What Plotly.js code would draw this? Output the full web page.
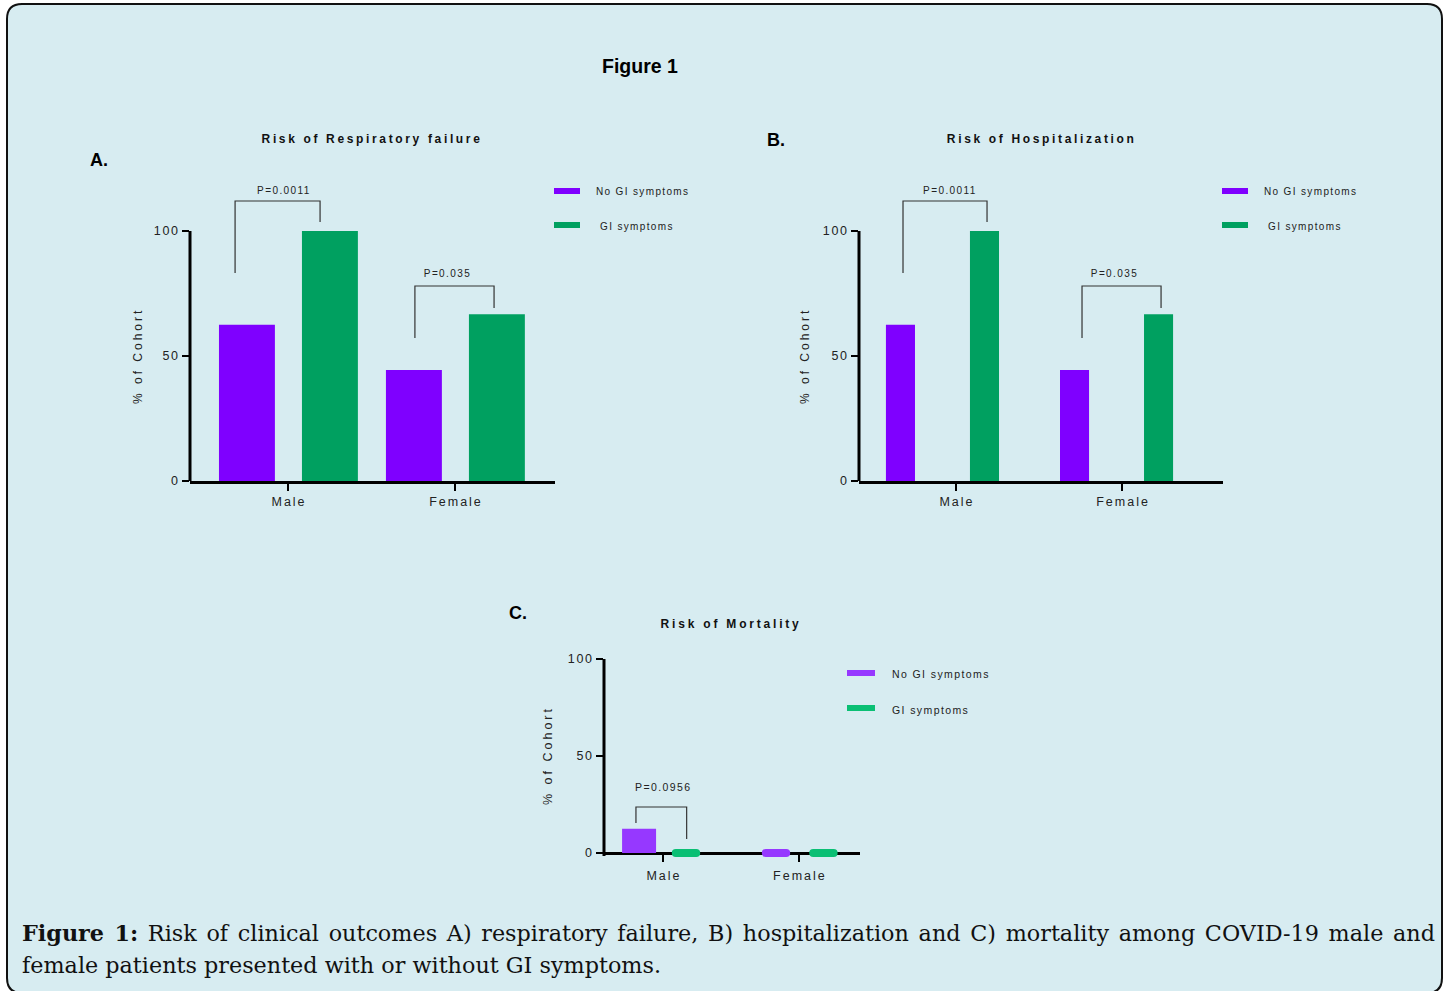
<!DOCTYPE html>
<html>
<head>
<meta charset="utf-8">
<script src="https://cdn.plot.ly/plotly-3.0.1.min.js"></script>
<style>
html,body{margin:0;padding:0;background:#fff;}
#chart{width:1451px;height:991px;}
</style>
</head>
<body>
<div id="chart"></div>
<script>
// ---------- data ----------
const categories = ["Male", "Female"];
const seriesNames = ["No GI symptoms", "GI symptoms"];
const respNoGI = [62.5, 44.4];
const respGI = [100, 66.7];
const hospNoGI = [62.5, 44.4];
const hospGI = [100, 66.7];
const mortNoGI = [12.5, 0];
const mortGI = [0, 0];
const yTicks = [0, 50, 100];
const pLabelsResp = ["P=0.0011", "P=0.035"];
const pLabelsHosp = ["P=0.0011", "P=0.035"];
const pLabelsMort = ["P=0.0956"];
// bracket heights in % units: [leftFoot, top, rightFoot]
const bracketResp = [[83.2, 112, 103.6], [57.2, 78, 69.2]];
const bracketHosp = [[83.2, 112, 103.6], [57.2, 78, 69.2]];
const bracketMort = [[15.5, 23.7, 7.2]];

// ---------- helpers ----------
const W = 1451, H = 991;
const px = x => x / W;
const py = y => 1 - y / H;
const FONT = "Liberation Sans, Arial, sans-serif";
const catIdx = categories.map((c, i) => i);

const colA = {p: "#7F00FF", g: "#00A060"};
const colC = {p: "#9638FF", g: "#0ABF74"};

function barTrace(name, vals, color, xa, ya, offset, width, lineW) {
  return {
    type: "bar", name: name, x: catIdx, y: vals,
    xaxis: xa, yaxis: ya, offset: offset, width: width,
    marker: {color: color, line: {color: color, width: lineW || 0}},
    showlegend: false, hoverinfo: "skip"
  };
}
function bracketTrace(cat, b, xl, xr, xa, ya) {
  return {
    type: "scatter", mode: "lines",
    x: [cat + xl, cat + xl, cat + xr, cat + xr],
    y: [b[0], b[1], b[1], b[2]],
    xaxis: xa, yaxis: ya,
    line: {color: "#333", width: 1.2},
    showlegend: false, hoverinfo: "skip"
  };
}

const traces = [
  barTrace(seriesNames[0], respNoGI, colA.p, "x", "y", -0.4135, 0.335),
  barTrace(seriesNames[1], respGI, colA.g, "x", "y", 0.0835, 0.335),
  barTrace(seriesNames[0], hospNoGI, colA.p, "x2", "y2", [-0.4218, -0.3736], 0.175),
  barTrace(seriesNames[1], hospGI, colA.g, "x2", "y2", [0.0842, 0.1324], 0.175),
  barTrace(seriesNames[0], mortNoGI, colC.p, "x3", "y3", [-0.301, -0.244], [0.25, 0.15], [0, 8]),
  barTrace(seriesNames[1], mortGI, colC.g, "x3", "y3", [0.094, 0.105], 0.15, [8, 8]),
  bracketTrace(0, bracketResp[0], -0.317, 0.192, "x", "y"),
  bracketTrace(1, bracketResp[1], -0.24, 0.234, "x", "y"),
  bracketTrace(0, bracketHosp[0], -0.319, 0.187, "x2", "y2"),
  bracketTrace(1, bracketHosp[1], -0.241, 0.235, "x2", "y2"),
  bracketTrace(0, bracketMort[0], -0.199, 0.174, "x3", "y3")
];

function xAxis(domain, range) {
  return {
    domain: domain, range: range, tickvals: catIdx, ticktext: categories,
    showline: true, linewidth: 3, linecolor: "#000",
    ticks: "outside", ticklen: 7, tickwidth: 2.5, tickcolor: "#000",
    showgrid: false, zeroline: false, fixedrange: true,
    tickfont: {family: FONT, size: 12.5, color: "#222"}
  };
}
function yAxis(domain, range, anchor) {
  return {
    domain: domain, range: range, tickvals: yTicks, anchor: anchor,
    showline: false, linewidth: 3, linecolor: "#000",
    ticks: "outside", ticklen: 7, tickwidth: 2.5, tickcolor: "#000",
    showgrid: false, zeroline: false, fixedrange: true,
    tickfont: {family: FONT, size: 12.5, color: "#222"}
  };
}

// rounded panel border
const r = 15, L = 7, R = 1442, T = 4, B = 993;
const borderPath = [
  "M", px(L + r), py(T),
  "L", px(R - r), py(T),
  "Q", px(R), py(T), px(R), py(T + r),
  "L", px(R), py(B - r),
  "Q", px(R), py(B), px(R - r), py(B),
  "L", px(L + r), py(B),
  "Q", px(L), py(B), px(L), py(B - r),
  "L", px(L), py(T + r),
  "Q", px(L), py(T), px(L + r), py(T), "Z"
].join(" ");

const shapes = [
  {type: "path", xref: "paper", yref: "paper", path: borderPath,
   fillcolor: "#D7ECF1", line: {color: "#111", width: 2}, layer: "below"},
  // y axis lines (only from 0 up to 100)
  {type: "line", xref: "x domain", yref: "y", x0: 0, x1: 0, y0: -1.2, y1: 100, line: {color: "#000", width: 3}},
  {type: "line", xref: "x2 domain", yref: "y2", x0: 0, x1: 0, y0: -1.2, y1: 100, line: {color: "#000", width: 3}},
  {type: "line", xref: "x3 domain", yref: "y3", x0: 0, x1: 0, y0: -1.5, y1: 100, line: {color: "#000", width: 3}, layer: "below"}
];
// legend swatches
function swatch(x0, x1, y0, y1, color) {
  shapes.push({type: "rect", xref: "paper", yref: "paper",
    x0: px(x0), x1: px(x1), y0: py(y1), y1: py(y0),
    fillcolor: color, line: {width: 0}});
}
swatch(554, 580, 188, 194, colA.p); swatch(554, 580, 222, 228, colA.g);
swatch(1222, 1248, 188, 194, colA.p); swatch(1222, 1248, 222, 228, colA.g);
swatch(847, 875, 670, 676, colC.p); swatch(847, 875, 705, 711, colC.g);

const annotations = [];
const spacing = [];
function ann(text, x, y, opts, ls) {
  annotations.push(Object.assign({
    text: text, x: px(x), y: py(y), xref: "paper", yref: "paper",
    showarrow: false, xanchor: "center", yanchor: "middle",
    font: {family: FONT, size: 12, color: "#111"}
  }, opts || {}));
  spacing.push(ls || 0);
}
function annD(text, x, y, xa, ya, size) {
  annotations.push({text: text, x: x, y: y, xref: xa, yref: ya, showarrow: false,
    xanchor: "center", yanchor: "middle", font: {family: FONT, size: size, color: "#222"}});
  spacing.push(1.4);
}

ann("<b>Figure 1</b>", 640, 66, {font: {family: FONT, size: 19.5, color: "#000"}});
ann("<b>A.</b>", 99, 160, {font: {family: FONT, size: 18, color: "#000"}});
ann("<b>B.</b>", 776, 140, {font: {family: FONT, size: 18, color: "#000"}});
ann("<b>C.</b>", 518, 613, {font: {family: FONT, size: 18, color: "#000"}});
ann("<b>Risk of Respiratory failure</b>", 371, 139, {font: {family: FONT, size: 12, color: "#111"}}, 2.65);
ann("<b>Risk of Hospitalization</b>", 1040, 139, {font: {family: FONT, size: 12, color: "#111"}}, 2.65);
ann("<b>Risk of Mortality</b>", 730, 624, {font: {family: FONT, size: 12, color: "#111"}}, 2.8);
ann("% of Cohort", 138, 357, {textangle: -90, font: {family: FONT, size: 12, color: "#222"}}, 3.0);
ann("% of Cohort", 805, 357, {textangle: -90, font: {family: FONT, size: 12, color: "#222"}}, 3.0);
ann("% of Cohort", 548, 757, {textangle: -90, font: {family: FONT, size: 12.5, color: "#222"}}, 3.0);
// legends
ann(seriesNames[0], 594, 192, {xanchor: "left", font: {family: FONT, size: 10, color: "#222"}}, 1.35);
ann(seriesNames[1], 598, 226, {xanchor: "left", font: {family: FONT, size: 10, color: "#222"}}, 1.35);
ann(seriesNames[0], 1262, 192, {xanchor: "left", font: {family: FONT, size: 10, color: "#222"}}, 1.35);
ann(seriesNames[1], 1266, 226, {xanchor: "left", font: {family: FONT, size: 10, color: "#222"}}, 1.35);
ann(seriesNames[0], 890, 674, {xanchor: "left", font: {family: FONT, size: 10.5, color: "#222"}}, 1.4);
ann(seriesNames[1], 890, 710, {xanchor: "left", font: {family: FONT, size: 10.5, color: "#222"}}, 1.4);
// p-values
annD(pLabelsResp[0], -0.03, 116, "x", "y", 10);
annD(pLabelsResp[1], 1 - 0.048, 83.2, "x", "y", 10);
annD(pLabelsHosp[0], -0.036, 116, "x2", "y2", 10);
annD(pLabelsHosp[1], 1 - 0.048, 83.2, "x2", "y2", 10);
annD(pLabelsMort[0], -0.007, 34, "x3", "y3", 10.5);
// caption
const CAP = "DejaVu Serif, serif";
ann("<b>Figure 1:</b> Risk of clinical outcomes A) respiratory failure, B) hospitalization and C) mortality among COVID-19 male and",
    20, 933, {xanchor: "left", font: {family: CAP, size: 22.3, color: "#111"}}, 0);
ann("female patients presented with or without GI symptoms.",
    20, 965, {xanchor: "left", font: {family: CAP, size: 22.3, color: "#111"}}, 0);
const captionFirstIdx = annotations.length - 2;

// panel C: value 0 sits at pixel 853, 1.94 px per % unit; a little room below 0 for zero-bars
const cPerUnit = (853 - 659) / 100;
const cBelow = 5;
const layout = {
  width: W, height: H,
  margin: {l: 0, r: 0, t: 0, b: 0},
  paper_bgcolor: "#ffffff", plot_bgcolor: "rgba(0,0,0,0)",
  barmode: "overlay", showlegend: false,
  xaxis: xAxis([px(190), px(555)], [-0.587, 1.599]),
  yaxis: yAxis([py(481), py(156)], [0, 130], "x"),
  xaxis2: xAxis([px(859), px(1223)], [-0.584, 1.608]),
  yaxis2: yAxis([py(481), py(156)], [0, 130], "x2"),
  xaxis3: xAxis([px(604), px(860)], [-0.434, 1.449]),
  yaxis3: yAxis([py(853 + cBelow * cPerUnit), py(659)], [-cBelow, 100], "x3"),
  shapes: shapes,
  annotations: annotations
};
layout.xaxis.anchor = "y"; layout.xaxis2.anchor = "y2";
layout.xaxis3.anchor = "free"; layout.xaxis3.position = py(853); layout.xaxis3.layer = "below traces";
layout.xaxis3.ticklabelstandoff = 3;
layout.yaxis3.layer = "below traces";

function shiftText(t, dx) {
  const prev = t.getAttribute("transform") || "";
  t.setAttribute("transform", (prev + " translate(" + dx + ",0)").trim());
}

Plotly.newPlot("chart", traces, layout, {staticPlot: true, displayModeBar: false}).then(gd => {
  // rounded ends for the zero-height bars of panel C
  gd.querySelectorAll(".subplot.x3y3 .bars path").forEach(p => {
    p.style.strokeLinejoin = "round";
  });
  // letter-spaced tick labels (GraphPad style)
  gd.querySelectorAll(".xtick text, .x2tick text, .x3tick text, .ytick text, .y2tick text, .y3tick text")
    .forEach(t => {
      const isX = t.parentNode.getAttribute("class").indexOf("x") === 0;
      const ls = isX ? 2 : 1.6;
      t.style.letterSpacing = ls + "px";
      if (isX) shiftText(t, ls / 2);
    });
  gd.querySelectorAll(".annotation").forEach(g => {
    const i = +g.getAttribute("data-index");
    const t = g.querySelector(".annotation-text");
    if (!t) return;
    const a = annotations[i];
    const w0 = t.getComputedTextLength();
    if (spacing[i]) t.style.letterSpacing = spacing[i] + "px";
    if (i === captionFirstIdx) {
      const target = 1433 - 20;
      const nSpaces = (t.textContent.match(/ /g) || []).length;
      if (w0 < target && nSpaces) t.style.wordSpacing = ((target - w0) / nSpaces) + "px";
    }
    const w1 = t.getComputedTextLength();
    let dx = 0;
    if (a.xanchor === "left") dx = (w1 - w0) / 2;
    else dx = (spacing[i] || 0) / 2;
    if (dx) shiftText(t, dx);
  });
});
</script>
</body>
</html>
